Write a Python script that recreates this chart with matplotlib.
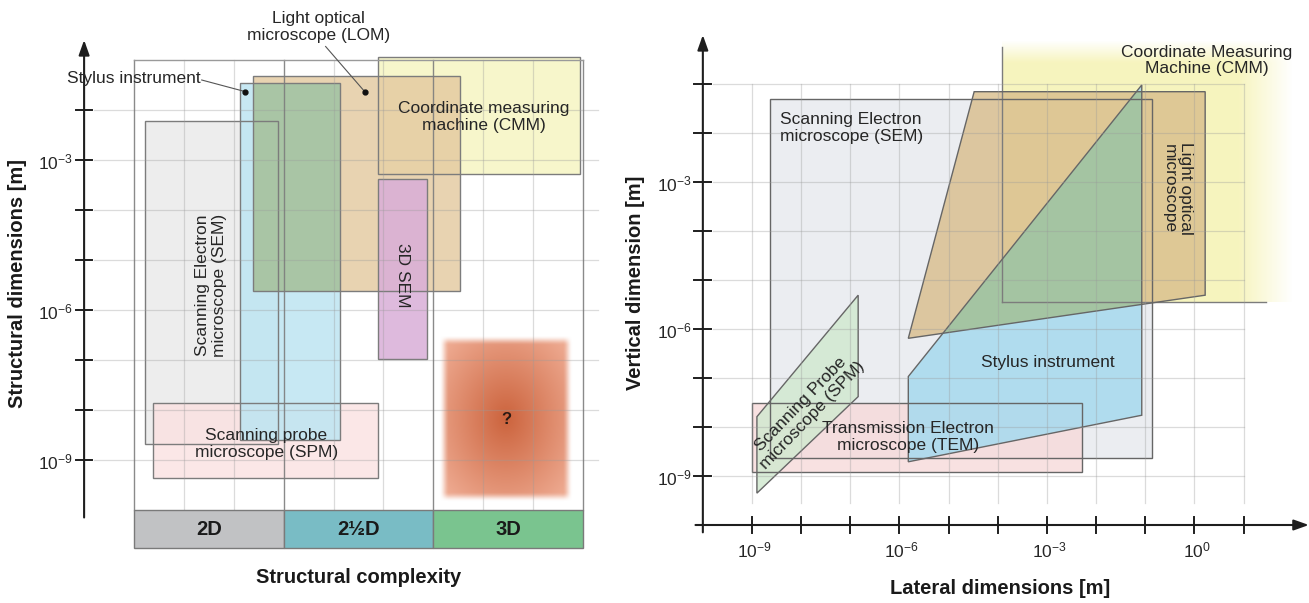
import numpy as np
import matplotlib
matplotlib.use('Agg')
import matplotlib.pyplot as plt
from matplotlib.patches import Polygon, Rectangle
from matplotlib.colors import to_rgba

plt.rcParams['font.family'] = ['Liberation Sans', 'DejaVu Sans']
plt.rcParams['mathtext.fontset'] = 'custom'
plt.rcParams['mathtext.rm'] = 'Liberation Sans'
plt.rcParams['mathtext.it'] = 'Liberation Sans:italic'
plt.rcParams['mathtext.bf'] = 'Liberation Sans:bold'

TXT = '#262626'

# ---------------- left panel: complexity class vs. log10(size / m) ----------------
left_names = ['SEM', 'SPM', 'Stylus', 'CMM', 'LOM', '3D SEM']
left_x0 = [0.22, 0.38, 2.13, 4.89, 2.38, 4.89]
left_x1 = [2.89, 4.89, 4.13, 8.94, 6.53, 5.88]
left_y0 = [-8.68, -9.36, -8.60, -3.28, -5.62, -6.98]
left_y1 = [-2.22, -7.85, -1.46, -0.94, -1.31, -3.38]
left_fill = ['#ececec', '#fbe1e1', '#bde5f2', '#f7f5c6', '#e3c89e', '#d9aed8']
left_alpha = [0.9, 0.8, 0.85, 0.9, 0.8, 0.85]

unknown_x = [6.21, 8.68]
unknown_y = [-9.73, -6.60]

classes = ['2D', '2½D', '3D']
class_colors = ['#c1c2c4', '#79bcc5', '#7ac48f']
left_ticks = [-2, -3, -4, -5, -6, -7, -8, -9]
left_tick_labels = {-3: r'$10^{-3}$', -6: r'$10^{-6}$', -9: r'$10^{-9}$'}

# ---------------- right panel: log10(lateral) vs log10(vertical) ----------------
sem_r = [(-8.63, -8.63), (-0.855, -8.63), (-0.855, -1.31), (-8.63, -1.31)]
tem_r = [(-9.0, -8.91), (-2.28, -8.91), (-2.28, -7.52), (-9.0, -7.52)]
spm_r = [(-8.90, -7.79), (-6.84, -5.31), (-6.84, -7.38), (-8.90, -9.35)]
lom_r = [(-4.48, -1.157), (0.22, -1.157), (0.22, -5.31), (-5.82, -6.19)]
stylus_r = [(-5.82, -6.97), (-1.07, -1.02), (-1.07, -7.76), (-5.82, -8.71)]
cmm_x = [-3.92, 2.0]
cmm_y = [-5.44, -0.1]
right_xticks = [-9, -8, -7, -6, -5, -4, -3, -2, -1, 0, 1]
right_yticks = [-1, -2, -3, -4, -5, -6, -7, -8, -9]
right_xlabels = {-9: r'$10^{-9}$', -6: r'$10^{-6}$', -3: r'$10^{-3}$', 0: r'$10^{0}$'}
right_ylabels = {-3: r'$10^{-3}$', -6: r'$10^{-6}$', -9: r'$10^{-9}$'}

W, H = 1309, 603
fig = plt.figure(figsize=(W / 100, H / 100), dpi=100)


def canvas(px0, px1, xo, xs, yo, ys):
    # data x -> pixel xo + xs*x, data y -> pixel from top yo - ys*y
    ax = fig.add_axes([px0 / W, 0, (px1 - px0) / W, 1])
    ax.axis('off')
    lims = ((px0 - xo) / xs, (px1 - xo) / xs), ((yo - H) / ys, yo / ys)
    return ax, lims


def signed_area(poly):
    return 0.5 * sum(poly[i - 1][0] * poly[i][1] - poly[i][0] * poly[i - 1][1] for i in range(len(poly)))


def clip(subject, clipper):
    # Sutherland-Hodgman for convex clipper
    if signed_area(clipper) < 0:
        clipper = clipper[::-1]

    def inside(p, a, b):
        return (b[0] - a[0]) * (p[1] - a[1]) - (b[1] - a[1]) * (p[0] - a[0]) >= 0

    def cut(p, q, a, b):
        x1, y1 = p; x2, y2 = q; x3, y3 = a; x4, y4 = b
        d = (x1 - x2) * (y3 - y4) - (y1 - y2) * (x3 - x4)
        t = ((x1 - x3) * (y3 - y4) - (y1 - y3) * (x3 - x4)) / d
        return (x1 + t * (x2 - x1), y1 + t * (y2 - y1))

    out = list(subject)
    for i in range(len(clipper)):
        a, b = clipper[i - 1], clipper[i]
        src, out = out, []
        for j in range(len(src)):
            p, q = src[j - 1], src[j]
            if inside(q, a, b):
                if not inside(p, a, b):
                    out.append(cut(p, q, a, b))
                out.append(q)
            elif inside(p, a, b):
                out.append(cut(p, q, a, b))
    return out


def rect(x0, x1, y0, y1):
    return [(x0, y0), (x1, y0), (x1, y1), (x0, y1)]


def arrow(ax, start, end):
    ax.annotate('', xy=end, xytext=start,
                arrowprops=dict(arrowstyle='-|>,head_length=0.9,head_width=0.32',
                                color='#1e1e1e', lw=1.5, shrinkA=0, shrinkB=0))


# ======================= LEFT =======================
axL, limL = canvas(0, 620, 134, 49.9, 10, 50)

# grid
for t in left_ticks:
    axL.plot([-0.8, 9.3], [t, t], color='#9a9a9a', alpha=0.35, lw=0.9, zorder=5)
for gx in range(10):
    major = gx % 3 == 0
    axL.plot([gx, gx], [-10.0, -1.0], color='#7d7d7d' if major else '#9a9a9a',
             alpha=0.9 if major else 0.35, lw=1.0 if major else 0.9, zorder=5)
axL.plot([0, 9], [-1.0, -1.0], color='#9a9a9a', lw=1.0, zorder=5)

# fills, then outlines on top
shapes = []
for x0, x1, y0, y1 in zip(left_x0, left_x1, left_y0, left_y1):
    shapes.append(rect(x0, x1, y0, y1))
for k, poly in enumerate(shapes):
    axL.add_patch(Polygon(poly, closed=True, facecolor=to_rgba(left_fill[k], left_alpha[k]),
                          edgecolor='none', zorder=2 + k * 0.1))
    if left_names[k] == 'LOM':
        both = clip(shapes[left_names.index('Stylus')], poly)
        axL.add_patch(Polygon(both, closed=True, facecolor='#a9c5a5', edgecolor='none',
                              zorder=2 + k * 0.1 + 0.05))
for poly in shapes:
    axL.add_patch(Polygon(poly, closed=True, fill=False, edgecolor='#7c7c7c', lw=1.0, zorder=4))

# fuzzy "unknown" region in the 3D column
pad = 0.2
gxs = np.linspace(unknown_x[0] - pad, unknown_x[1] + pad, 220)
gys = np.linspace(unknown_y[0] - pad, unknown_y[1] + pad, 260)
GX, GY = np.meshgrid(gxs, gys)
cx, cy = np.mean(unknown_x), np.mean(unknown_y)
hx, hy = (unknown_x[1] - unknown_x[0]) / 2, (unknown_y[1] - unknown_y[0]) / 2
r = np.clip(np.hypot((GX - cx) / hx, (GY - cy) / hy) / 1.3, 0, 1)
inner = np.array([0.80, 0.39, 0.24])
outer = np.array([0.93, 0.66, 0.56])
rgb = inner + (outer - inner) * r[..., None]
ex = np.clip((hx - np.abs(GX - cx)) / 0.2 + 0.5, 0, 1)
ey = np.clip((hy - np.abs(GY - cy)) / 0.2 + 0.5, 0, 1)
soft = (ex * ex * (3 - 2 * ex)) * (ey * ey * (3 - 2 * ey))
img = np.dstack([rgb, soft])
axL.imshow(img, extent=(gxs[0], gxs[-1], gys[0], gys[-1]), origin='lower',
           aspect='auto', interpolation='bilinear', zorder=3)

# complexity bands
for i, (name, c) in enumerate(zip(classes, class_colors)):
    axL.add_patch(Rectangle((i * 3, -10.76), 3, 0.76, facecolor=c, edgecolor='#7a7a7a',
                            lw=1.0, zorder=6))
    axL.text(i * 3 + 1.5, -10.38, name, ha='center', va='center', fontsize=14.5,
             fontweight='bold', color='#1a1a1a', zorder=7)

# axis
arrow(axL, (-1, -10.15), (-1, -0.6))
for t in left_ticks:
    axL.plot([-1.16, -0.84], [t, t], color='#1e1e1e', lw=1.4, zorder=6)
for t, lab in left_tick_labels.items():
    axL.text(-1.23, t - 0.04, lab, ha='right', va='center', fontsize=12.5, color=TXT)

# labels
axL.text(1.33, -1.38, 'Stylus instrument', ha='right', va='center', fontsize=12.5, color=TXT, zorder=8)
axL.plot([1.357, 2.22], [-1.40, -1.63], color='#555555', lw=0.8, zorder=8)
axL.plot([2.22], [-1.63], 'o', color='#111111', ms=3.5, zorder=8)
axL.text(3.69, -0.34, 'Light optical\nmicroscope (LOM)', ha='center', va='center',
         fontsize=12.5, color=TXT, linespacing=1.15, zorder=8)
axL.plot([3.84, 4.63], [-0.73, -1.64], color='#555555', lw=0.8, zorder=8)
axL.plot([4.63], [-1.64], 'o', color='#111111', ms=3.5, zorder=8)
axL.text(7.01, -2.14, 'Coordinate measuring\nmachine (CMM)', ha='center', va='center',
         fontsize=12.5, color=TXT, linespacing=1.15, zorder=8)
axL.text(5.39, -5.31, '3D SEM', rotation=-90, ha='center', va='center', fontsize=12.5,
         color=TXT, zorder=8)
axL.text(1.54, -5.5, 'Scanning Electron\nmicroscope (SEM)', rotation=90, ha='center',
         va='center', fontsize=12.5, color=TXT, linespacing=1.15, zorder=8)
axL.text(2.65, -8.68, 'Scanning probe\nmicroscope (SPM)', ha='center', va='center',
         fontsize=12.5, color=TXT, linespacing=1.15, zorder=8)
axL.text(7.47, -8.2, '?', ha='center', va='center', fontsize=12, fontweight='bold',
         color='#2a1a14', zorder=8)
axL.text(4.5, -11.34, 'Structural complexity', ha='center', va='center', fontsize=14.5,
         fontweight='bold', color='#1a1a1a')
axL.text(-2.34, -5.47, 'Structural dimensions [m]', rotation=90, ha='center', va='center',
         fontsize=14.5, fontweight='bold', color='#1a1a1a')
axL.set_xlim(*limL[0])
axL.set_ylim(*limL[1])

# ======================= RIGHT =======================
axR, limR = canvas(620, 1309, 1194.35, 49.15, 35, 49)

for t in right_yticks:
    axR.plot([-9.8, 1.0], [t, t], color='#9a9a9a', alpha=0.35, lw=0.9, zorder=5)
for t in right_xticks:
    axR.plot([t, t], [-9.55, -1.0], color='#9a9a9a', alpha=0.35, lw=0.9, zorder=5)

# CMM range fading out towards large sizes
gxs = np.linspace(cmm_x[0], cmm_x[1], 300)
gys = np.linspace(cmm_y[0], cmm_y[1], 200)
GX, GY = np.meshgrid(gxs, gys)
fx = np.clip((cmm_x[1] - GX) / (cmm_x[1] - 0.9), 0, 1)
fy = np.clip((cmm_y[1] - GY) / 0.45, 0, 1)
img = np.zeros(GX.shape + (4,))
img[..., 0], img[..., 1], img[..., 2] = 0.965, 0.955, 0.72
img[..., 3] = 0.9 * fx * fy
axR.imshow(img, extent=(gxs[0], gxs[-1], gys[0], gys[-1]), origin='lower',
           aspect='auto', interpolation='bilinear', zorder=2.15)
axR.plot([cmm_x[0], cmm_x[0]], [cmm_y[0], -0.24], color='#7c7c7c', lw=1.0, zorder=4)
axR.plot([cmm_x[0], 1.45], [cmm_y[0], cmm_y[0]], color='#7c7c7c', lw=1.0, zorder=4)

right_shapes = [sem_r, tem_r, spm_r, lom_r, stylus_r]
right_fill = ['#e8eaef', '#f7dada', '#d2e9d0', '#d9bd8b', '#a8daee']
right_alpha = [0.85, 0.8, 0.85, 0.8, 0.88]
right_z = [2.0, 2.1, 2.2, 2.3, 2.4]
for poly, c, a, z in zip(right_shapes, right_fill, right_alpha, right_z):
    axR.add_patch(Polygon(poly, closed=True, facecolor=to_rgba(c, a), edgecolor='none', zorder=z))
axR.add_patch(Polygon(clip(stylus_r, lom_r), closed=True, facecolor='#a4c4a2',
                      edgecolor='none', zorder=2.5))
for poly in right_shapes:
    axR.add_patch(Polygon(poly, closed=True, fill=False, edgecolor='#666666', lw=1.0, zorder=4))

# axes
arrow(axR, (-10, -10.15), (-10, 0.0))
arrow(axR, (-10.15, -10), (2.33, -10))
for t in right_yticks:
    axR.plot([-10.17, -9.83], [t, t], color='#1e1e1e', lw=1.4, zorder=6)
for t in right_xticks:
    axR.plot([t, t], [-9.84, -10.16], color='#1e1e1e', lw=1.4, zorder=6)
for t, lab in right_xlabels.items():
    axR.text(t + 0.05, -10.51, lab, ha='center', va='center', fontsize=12.5, color=TXT)
for t, lab in right_ylabels.items():
    axR.text(-10.22, t - 0.04, lab, ha='right', va='center', fontsize=12.5, color=TXT)

axR.text(0.25, -0.52, 'Coordinate Measuring\nMachine (CMM)', ha='center', va='center',
         fontsize=12.5, color=TXT, linespacing=1.15, zorder=8)
axR.text(-8.43, -1.89, 'Scanning Electron\nmicroscope (SEM)', ha='left', va='center',
         fontsize=12.5, color=TXT, linespacing=1.15, zorder=8)
axR.text(-0.35, -3.13, 'Light optical\nmicroscope', rotation=-90, ha='center', va='center',
         fontsize=12.5, color=TXT, linespacing=1.1, zorder=8)
axR.text(-2.98, -6.69, 'Stylus instrument', ha='center', va='center', fontsize=12.5,
         color=TXT, zorder=8)
axR.text(-5.83, -8.2, 'Transmission Electron\nmicroscope (TEM)', ha='center', va='center',
         fontsize=12.5, color=TXT, linespacing=1.15, zorder=8)
axR.text(-7.89, -7.65, 'Scanning Probe\nmicroscope (SPM)', rotation=46, rotation_mode='anchor',
         ha='center', va='center', fontsize=12.5, color=TXT, linespacing=1.1, zorder=8)
axR.text(-3.95, -11.29, 'Lateral dimensions [m]', ha='center', va='center', fontsize=14.5,
         fontweight='bold', color='#1a1a1a')
axR.text(-11.37, -5.06, 'Vertical dimension [m]', rotation=90, ha='center', va='center',
         fontsize=14.5, fontweight='bold', color='#1a1a1a')
axR.set_xlim(*limR[0])
axR.set_ylim(*limR[1])

fig.savefig('out.png', dpi=100, facecolor='white')
